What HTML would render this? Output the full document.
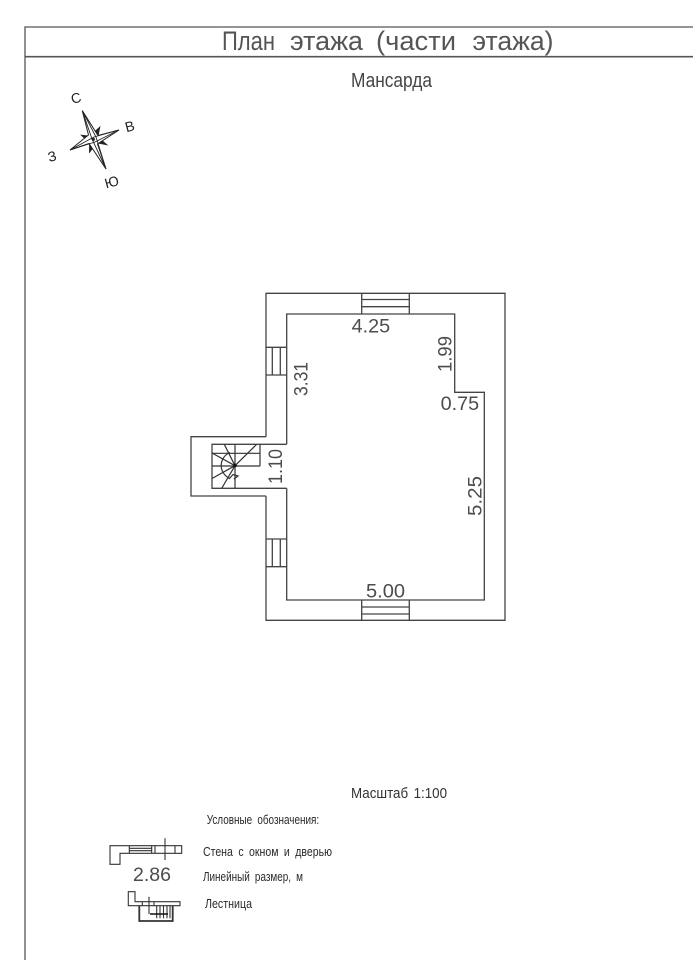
<!DOCTYPE html>
<html><head><meta charset="utf-8"><style>
html,body{margin:0;padding:0;background:#fff}
svg{display:block}
text{font-family:"Liberation Sans",sans-serif;fill:#333}
.d{font-size:19px;fill:#4c4c4c}
.l{font-size:12.5px;fill:#2a2a2a;word-spacing:3px}
.t{font-size:27px;fill:#555}
.c{font-size:14px;text-anchor:middle;fill:#222}
</style></head><body>
<svg width="693" height="960" viewBox="0 0 693 960" xmlns="http://www.w3.org/2000/svg">
<rect width="693" height="960" fill="#fff"/>
<g fill="none" stroke="#444" stroke-width="1.3">
<path d="M693 27H25V960" stroke="#555"/>
<path d="M25 56.7H693" stroke-width="1.6" stroke="#555"/>
<!-- plan -->
<path d="M266 436.7V293.3H505V620.3H266V496"/>
<path d="M286.7 444.3V314H454.7V392.3H484.3V600H286.7V488.3"/>
<path d="M266 436.7H191V496H266"/>
<path d="M286.7 444.3H212V488.3H286.7"/>
<!-- windows -->
<path d="M361.7 293.3V314M409.3 293.3V314M361.7 299.5H409.3M361.7 306.7H409.3"/>
<path d="M361.7 600V620.3M409.3 600V620.3M361.7 607H409.3M361.7 614H409.3"/>
<path d="M266 347.3H286.7M266 375H286.7M272.3 347.3V375M280.3 347.3V375"/>
<path d="M266 539H286.7M266 566.7H286.7M272.3 539V566.7M280.3 539V566.7"/>
<!-- stairs -->
<g stroke-width="1.2" stroke="#333">
<path d="M212 453.3H260M212 466H260M260 444.3V466M235 444.3V488.3"/>
<path d="M235 465.7L212 453M235 465.7L224.3 444.3M235 465.7L256.7 444.3M235 465.7L212 478.5M235 465.7L221.7 488.3"/>
<path d="M230 452.5A14 14 0 0 0 230 478.5"/>
<path d="M229 479L233 474.5L238 476L234 479"/>
</g>
<circle cx="235" cy="465.5" r="1.8" fill="#111" stroke="none"/>
<!-- compass -->
<path d="M81 135L90 136L100 126.7L98 137L107.3 145L97 143L89.3 152.7L89.5 143Z" fill="#222" stroke="#222" stroke-width=".6"/>
<path d="M82.3 110.7L98 135.5L119 130L97.5 144L106 169L89 143.5L70 150L88.5 135Z" fill="#fff" stroke="#222" stroke-width="1"/>
<path d="M82.3 110.7L92 139L106 169M82.3 110.7L96 137L106 169M119 130L94 137L70 150M119 130L95 142L70 150" stroke="#222" stroke-width=".9"/>
<circle cx="93.3" cy="139.3" r="1.6" fill="#222" stroke="none"/>
<!-- legend wall -->
<g stroke-width="1.1" stroke="#333">
<path d="M110 864.3V845.7H181.7V853.3H120V864.3Z"/>
<path d="M129.3 845.7V853.3M151.7 845.7V853.3M129.3 848.3H151.7M129.3 850.7H151.7M155 845.7V853.3M165 838.3V860M175 845.7V853.3"/>
<path d="M128.3 891.7H135V901.7H180V905.7H128.3Z"/>
<path d="M142.3 901.7V905.7M154 901.7V905.7M149 896.7V914"/>
<path d="M139.3 905.7V921H172.7V905.7" stroke-width="1.8"/>
<path d="M156.7 905.7V918.3M160 905.7V918.3M163.5 905.7V918.3M167 905.7V918.3M170 905.7V918.3"/>
<path d="M150 914H168" stroke="#111" stroke-width="1.4"/>
</g>
</g>
<!-- labels -->
<text class="t" x="222" y="50" textLength="53" lengthAdjust="spacingAndGlyphs">План</text>
<text class="t" x="290" y="50" textLength="73" lengthAdjust="spacingAndGlyphs">этажа</text>
<text class="t" x="376" y="50" textLength="80" lengthAdjust="spacingAndGlyphs">(части</text>
<text class="t" x="472.5" y="50" textLength="81" lengthAdjust="spacingAndGlyphs">этажа)</text>
<text x="351" y="87" font-size="20" textLength="81" lengthAdjust="spacingAndGlyphs" style="fill:#444">Мансарда</text>
<text class="d" x="351.7" y="332.5" textLength="38.5" lengthAdjust="spacingAndGlyphs">4.25</text>
<text class="d" x="366" y="597.5" textLength="39" lengthAdjust="spacingAndGlyphs">5.00</text>
<text class="d" x="440.7" y="410" textLength="38.5" lengthAdjust="spacingAndGlyphs">0.75</text>
<text class="d" transform="translate(451.7 372) rotate(-90)" textLength="36" lengthAdjust="spacingAndGlyphs">1.99</text>
<text class="d" transform="translate(307.7 396) rotate(-90)" textLength="34" lengthAdjust="spacingAndGlyphs">3.31</text>
<text class="d" transform="translate(282 484) rotate(-90)" textLength="35" lengthAdjust="spacingAndGlyphs">1.10</text>
<text class="d" transform="translate(481.7 516) rotate(-90)" textLength="40" lengthAdjust="spacingAndGlyphs">5.25</text>
<text class="d" x="133" y="881" textLength="38" lengthAdjust="spacingAndGlyphs">2.86</text>
<text x="351" y="798" font-size="15" textLength="96" lengthAdjust="spacingAndGlyphs" style="word-spacing:2px">Масштаб 1:100</text>
<text class="l" x="206.7" y="824" textLength="112.5" lengthAdjust="spacingAndGlyphs">Условные обозначения:</text>
<text class="l" x="203" y="856" textLength="129" lengthAdjust="spacingAndGlyphs">Стена с окном и дверью</text>
<text class="l" x="203" y="881" textLength="100" lengthAdjust="spacingAndGlyphs">Линейный размер, м</text>
<text class="l" x="205" y="908" textLength="47" lengthAdjust="spacingAndGlyphs">Лестница</text>
<text class="c" transform="translate(77.3 102.7) rotate(-15)">С</text>
<text class="c" transform="translate(131 131) rotate(-15)">В</text>
<text class="c" transform="translate(53.3 161) rotate(-15)">З</text>
<text class="c" transform="translate(113 186.7) rotate(-15)">Ю</text>
</svg>
</body></html>
